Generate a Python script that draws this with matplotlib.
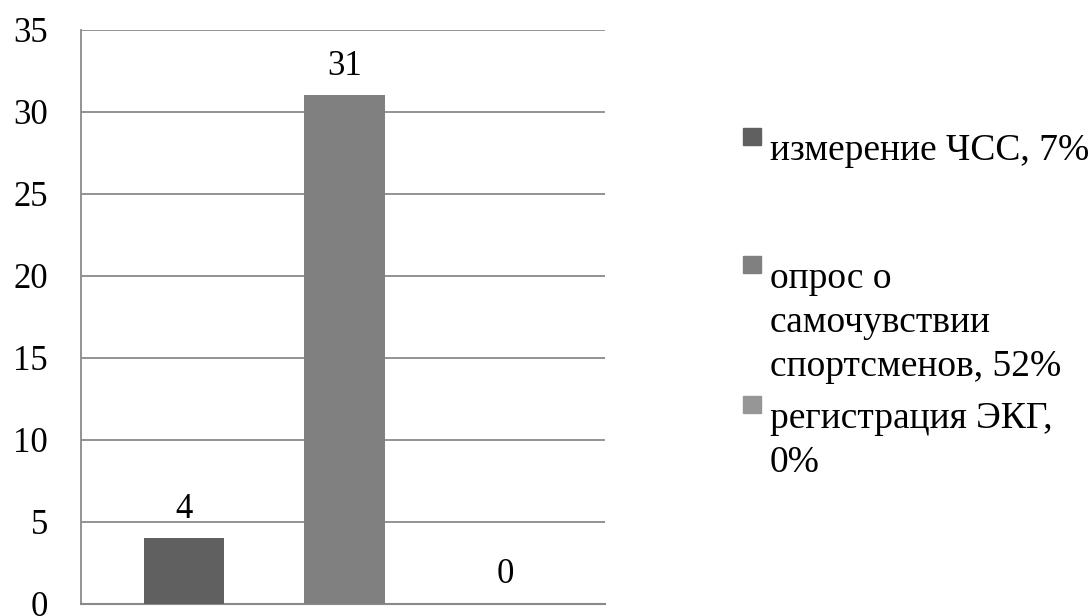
import matplotlib.pyplot as plt
from matplotlib.patches import Rectangle

labels = ["измерение ЧСС, 7%", "опрос о\nсамочувствии\nспортсменов, 52%", "регистрация ЭКГ,\n0%"]
values = [4, 31, 0]
colors = ["#606060", "#808080", "#969696"]
y_ticks = [0, 5, 10, 15, 20, 25, 30, 35]

plt.rcParams['font.family'] = ['Liberation Serif', 'DejaVu Serif']

fig = plt.figure(figsize=(10.92, 6.16), dpi=100)
ax = fig.add_axes([0.0742, 0.0195, 0.4798, 0.932])

x = list(range(len(values)))
ax.bar(x, values, width=0.5, color=colors, zorder=3)
for xi, v in zip(x, values):
    ax.annotate(str(v), (xi, v), xytext=(0, 15), textcoords="offset points",
                ha="center", va="baseline", fontsize=25)

ax.set_xlim(-0.64, 2.62)
ax.set_ylim(0, 35)
ax.set_yticks(y_ticks)
ax.set_yticklabels([str(t) for t in y_ticks], fontsize=25)
ax.set_xticks([])
ax.tick_params(axis="y", length=0, pad=24)
ax.yaxis.grid(True, color="#8a8a8a", linewidth=1.3, zorder=0)
for s in ["top", "right"]:
    ax.spines[s].set_visible(False)
ax.spines["left"].set_color("#8a8a8a")
ax.spines["left"].set_linewidth(1.3)
ax.spines["bottom"].set_color("#8a8a8a")
ax.spines["bottom"].set_linewidth(1.5)

# legend drawn by hand: marker beside the first line of each label
legend_baseline = [160, 288, 428]
line_step = 44
W, H = 1092, 616
for lab, col, yb in zip(labels, colors, legend_baseline):
    fig.patches.append(Rectangle((743 / W, 1 - (yb - 15) / H), 18 / W, 17 / H,
                                 transform=fig.transFigure, color=col, figure=fig))
    for i, line in enumerate(lab.split("\n")):
        fig.text(770 / W, 1 - (yb + i * line_step) / H, line, fontsize=27,
                 ha="left", va="baseline")

fig.savefig("out.png", dpi=100)
